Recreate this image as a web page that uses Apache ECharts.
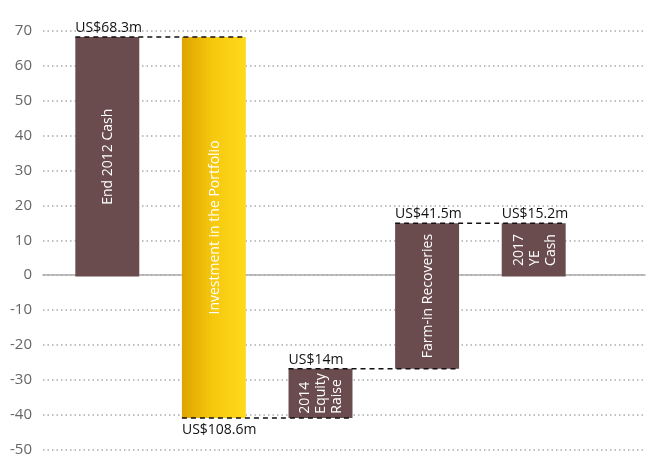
<!DOCTYPE html>
<html>
<head>
<meta charset="utf-8">
<script src="https://cdn.jsdelivr.net/npm/echarts@6/dist/echarts.min.js"></script>
<style>html,body{margin:0;padding:0;background:#fff}#c{width:646px;height:457px}</style>
</head>
<body>
<div id="c"></div>
<script>
var categories = ['End 2012 Cash', 'Investment in the Portfolio', '2014\nEquity\nRaise', 'Farm-in Recoveries', '2017\nYE\nCash'];
var changes = [68.3, -108.6, 14, 41.5, 15.2];
var isTotal = [true, false, false, false, true];
var valueLabels = ['US$68.3m', 'US$108.6m', 'US$14m', 'US$41.5m', 'US$15.2m'];
var yMin = -50, yMax = 70, yInterval = 10;

var BROWN = '#6a4c4e';
var FONT = '"Open Sans", "Noto Sans", sans-serif';
var IN_SIZE = 14;

// build waterfall segments
var barData = [];
var running = 0;
for (var i = 0; i < changes.length; i++) {
  var lo, hi, start, end;
  if (isTotal[i]) { start = 0; end = changes[i]; running = changes[i]; }
  else { start = running; end = running + changes[i]; running = end; }
  lo = Math.min(start, end); hi = Math.max(start, end);
  barData.push([i, lo, hi, changes[i] < 0 ? 1 : 0]);
}
// connectors: level where bar i ends = where bar i+1 starts
var connData = [];
running = 0;
for (var j = 0; j < changes.length - 1; j++) {
  running = isTotal[j] ? changes[j] : running + changes[j];
  connData.push([j, running]);
}

var mctx = document.createElement('canvas').getContext('2d');
mctx.font = IN_SIZE + 'px ' + FONT;
function maxLineWidth(t) {
  return Math.max.apply(null, t.split('\n').map(function (s) { return mctx.measureText(s).width; }));
}

var BAR_RATIO = 0.6;
var chart = echarts.init(document.getElementById('c'), null, {renderer: 'canvas'});
chart.setOption({
  animation: false,
  grid: [
    {left: 43, right: 1, top: 31, bottom: 5},
    {left: 54, right: 59, top: 31, bottom: 5}
  ],
  xAxis: [
    {gridIndex: 0, type: 'category', data: [''], axisLine: {show: true, onZero: true, lineStyle: {color: '#aaaaaa', width: 1.5}}, axisTick: {show: false}, axisLabel: {show: false}},
    {gridIndex: 1, type: 'category', data: categories, show: false}
  ],
  yAxis: [
    {gridIndex: 0, type: 'value', min: yMin, max: yMax, interval: yInterval,
     axisLine: {show: false}, axisTick: {show: false},
     axisLabel: {color: '#666', fontSize: 15, fontFamily: FONT, margin: 11},
     splitLine: {show: true, lineStyle: {color: '#aaa', type: [1.5, 3], width: 1.5}}},
    {gridIndex: 1, type: 'value', min: yMin, max: yMax, interval: yInterval, show: false, splitLine: {show: false}}
  ],
  series: [
    {
      type: 'custom', xAxisIndex: 1, yAxisIndex: 1, data: barData, z: 3,
      renderItem: function (params, api) {
        var idx = api.value(0);
        var pTop = api.coord([idx, api.value(2)]);
        var pBot = api.coord([idx, api.value(1)]);
        var bw = api.size([1, 0])[0] * BAR_RATIO;
        var x0 = pTop[0] - bw / 2;
        var fill = api.value(3) ? new echarts.graphic.LinearGradient(0, 0, 1, 0, [
          {offset: 0, color: '#dea300'}, {offset: 0.5, color: '#f6c90e'}, {offset: 1, color: '#ffda1c'}]) : BROWN;
        var neg = api.value(3);
        var mw = maxLineWidth(categories[idx]);
        return {
          type: 'group',
          children: [
            {type: 'rect', shape: {x: x0, y: pTop[1], width: bw, height: pBot[1] - pTop[1]}, style: {fill: fill}},
            {type: 'group', x: pTop[0] + 1, y: (pTop[1] + pBot[1]) / 2, rotation: Math.PI / 2,
             children: [{type: 'text', x: -mw / 2, y: 0,
               style: {text: categories[idx], fill: '#fff', fontSize: IN_SIZE, fontFamily: FONT, align: 'left', verticalAlign: 'middle', lineHeight: 16}}]},
            {type: 'text', x: x0, y: neg ? pBot[1] + 5 : pTop[1] - 2,
             style: {text: valueLabels[idx], fill: '#111', fontSize: 14, fontFamily: FONT, align: 'left', verticalAlign: neg ? 'top' : 'bottom'}}
          ]
        };
      }
    },
    {
      type: 'custom', xAxisIndex: 1, yAxisIndex: 1, data: connData, z: 4,
      renderItem: function (params, api) {
        var idx = api.value(0);
        var p1 = api.coord([idx, api.value(1)]);
        var p2 = api.coord([idx + 1, api.value(1)]);
        var bw = api.size([1, 0])[0] * BAR_RATIO;
        return {
          type: 'line',
          shape: {x1: p1[0] - bw / 2, y1: p1[1], x2: p2[0] + bw / 2, y2: p2[1]},
          style: {stroke: '#111', lineWidth: 1.5, lineDash: [5, 4]}
        };
      }
    }
  ]
});
</script>
</body>
</html>
